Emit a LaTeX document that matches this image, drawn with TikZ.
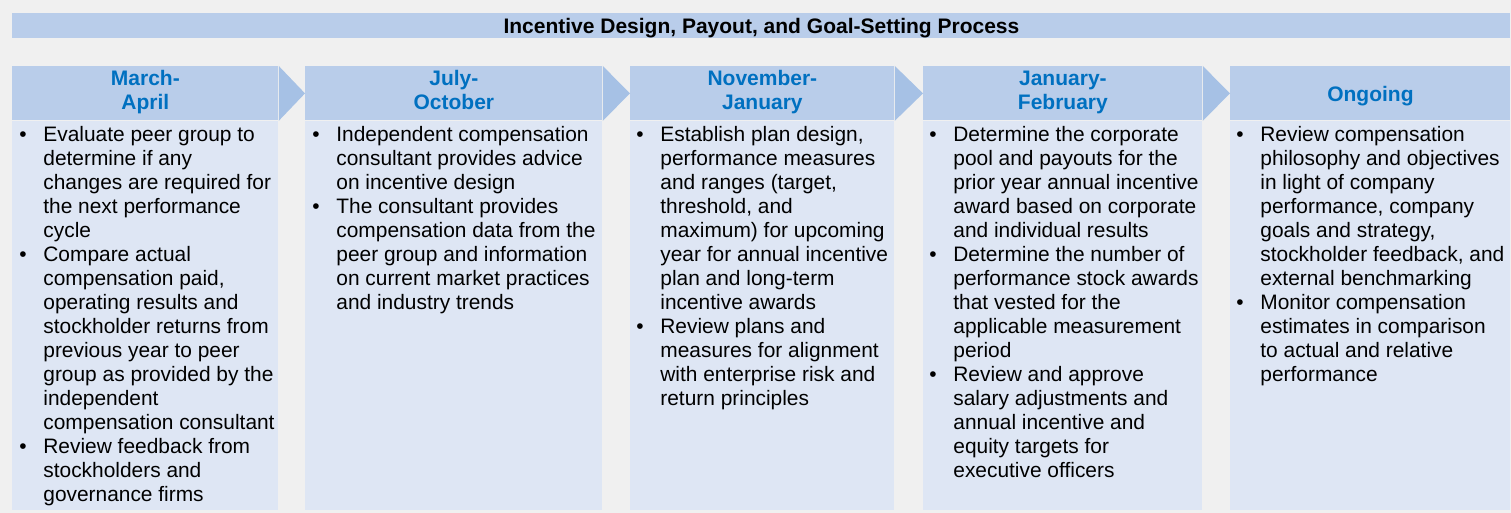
\documentclass[tikz,border=0pt]{standalone}
\usepackage{fontspec}
\setmainfont{Liberation Sans}
\usepackage{xcolor}
\usepackage{tikz}
\usetikzlibrary{calc}
\definecolor{PageGray}{HTML}{F0F0F0}
\definecolor{HeadBlue}{HTML}{B9CDEA}
\definecolor{BodyBlue}{HTML}{DEE6F4}
\definecolor{ChevBlue}{HTML}{A6C1E5}
\definecolor{MonthBlue}{HTML}{0070C0}
\newcommand{\bodyfont}{\fontsize{10.45}{12}\selectfont}
\newcommand{\headfont}{\fontsize{10.5}{12}\selectfont\bfseries}
\newcommand{\itm}{\textbullet}

\begin{document}
\begin{tikzpicture}[x=0.5pt, y=-0.5pt,
  hbox/.style = {fill=HeadBlue, inner sep=0, anchor=north west, minimum height=27pt},
  bbox/.style = {fill=BodyBlue, inner sep=0, anchor=north west, minimum height=194.5pt},
  month/.style = {inner sep=0, anchor=base, text=MonthBlue, font=\headfont},
  items/.style = {inner sep=0, anchor=base west, font=\bodyfont}]

  % page
  \useasboundingbox (0,0) rectangle (1511,513);
  \fill[PageGray] (0,0) rectangle (1511,513);

  % title bar
  \node[fill=HeadBlue, inner sep=0, anchor=north west, minimum width=749pt, minimum height=12.5pt]
    (titlebar) at (12,13) {};
  \node[inner sep=0, anchor=base, font=\headfont] (title) at ($(titlebar.north)+(0,20.3)$)
    {Incentive Design, Payout, and Goal-Setting Process};

  % column heads
  \node[hbox, minimum width=133pt] (h1) at (12,66) {};
  \node[hbox, minimum width=148.5pt] (h2) at (305,66) {};
  \node[hbox, minimum width=132pt] (h3) at (630,66) {};
  \node[hbox, minimum width=139.5pt] (h4) at (923,66) {};
  \node[hbox, minimum width=140pt] (h5) at (1230,66) {};

  % column bodies
  \node[bbox, minimum width=133pt] (b1) at (h1.south west) {};
  \node[bbox, minimum width=148.5pt] (b2) at (h2.south west) {};
  \node[bbox, minimum width=132pt] (b3) at (h3.south west) {};
  \node[bbox, minimum width=139.5pt] (b4) at (h4.south west) {};
  \node[bbox, minimum width=140pt] (b5) at (h5.south west) {};

  % chevrons
  \fill[ChevBlue] (h1.north east) -- (h2.west) -- (h1.south east) -- cycle;
  \fill[ChevBlue] (h2.north east) -- (h3.west) -- (h2.south east) -- cycle;
  \fill[ChevBlue] (h3.north east) -- (h4.west) -- (h3.south east) -- cycle;
  \fill[ChevBlue] (h4.north east) -- (h5.west) -- (h4.south east) -- cycle;

  % periods
  \node[month] (m1) at ($(h1.north)+(0,20)$) {\begin{tabular}[t]{@{}c@{}}March-\\April\end{tabular}};
  \node[month] (m2) at ($(h2.north)+(0,20)$) {\begin{tabular}[t]{@{}c@{}}July-\\October\end{tabular}};
  \node[month] (m3) at ($(h3.north)+(0,20)$) {\begin{tabular}[t]{@{}c@{}}November-\\January\end{tabular}};
  \node[month] (m4) at ($(h4.north)+(0,20)$) {\begin{tabular}[t]{@{}c@{}}January-\\February\end{tabular}};
  \node[month] (m5) at ($(h5.north)+(0,35.5)$) {Ongoing};

  % bullet lists
  \node[items] (l1) at ($(b1.north west)+(7,20.5)$) {\begin{tabular}[t]{@{}p{12pt}@{}l@{}}
    \itm & Evaluate peer group to\\ & determine if any\\ & changes are required for\\
         & the next performance\\ & cycle\\
    \itm & Compare actual\\ & compensation paid,\\ & operating results and\\
         & stockholder returns from\\ & previous year to peer\\ & group as provided by the\\
         & independent\\ & compensation consultant\\
    \itm & Review feedback from\\ & stockholders and\\ & governance firms
  \end{tabular}};
  \node[items] (l2) at ($(b2.north west)+(7,20.5)$) {\begin{tabular}[t]{@{}p{12pt}@{}l@{}}
    \itm & Independent compensation\\ & consultant provides advice\\ & on incentive design\\
    \itm & The consultant provides\\ & compensation data from the\\ & peer group and information\\
         & on current market practices\\ & and industry trends
  \end{tabular}};
  \node[items] (l3) at ($(b3.north west)+(6,20.5)$) {\begin{tabular}[t]{@{}p{12pt}@{}l@{}}
    \itm & Establish plan design,\\ & performance measures\\ & and ranges (target,\\
         & threshold, and\\ & maximum) for upcoming\\ & year for annual incentive\\
         & plan and long-term\\ & incentive awards\\
    \itm & Review plans and\\ & measures for alignment\\ & with enterprise risk and\\
         & return principles
  \end{tabular}};
  \node[items] (l4) at ($(b4.north west)+(6,20.5)$) {\begin{tabular}[t]{@{}p{12pt}@{}l@{}}
    \itm & Determine the corporate\\ & pool and payouts for the\\ & prior year annual incentive\\
         & award based on corporate\\ & and individual results\\
    \itm & Determine the number of\\ & performance stock awards\\ & that vested for the\\
         & applicable measurement\\ & period\\
    \itm & Review and approve\\ & salary adjustments and\\ & annual incentive and\\
         & equity targets for\\ & executive officers
  \end{tabular}};
  \node[items] (l5) at ($(b5.north west)+(6,20.5)$) {\begin{tabular}[t]{@{}p{12pt}@{}l@{}}
    \itm & Review compensation\\ & philosophy and objectives\\ & in light of company\\
         & performance, company\\ & goals and strategy,\\ & stockholder feedback, and\\
         & external benchmarking\\
    \itm & Monitor compensation\\ & estimates in comparison\\ & to actual and relative\\
         & performance
  \end{tabular}};

\end{tikzpicture}
\end{document}
